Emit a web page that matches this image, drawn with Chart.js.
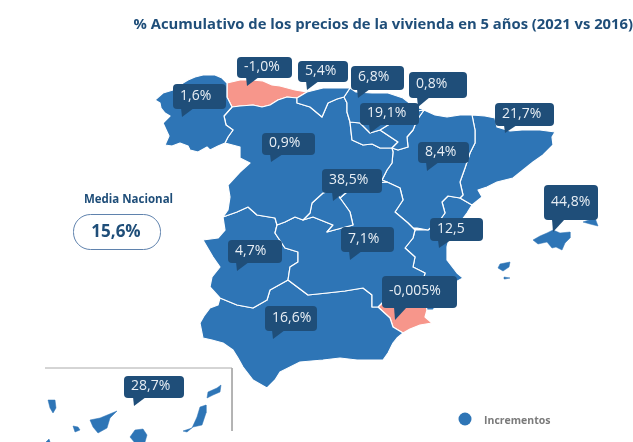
<!DOCTYPE html>
<html lang="es">
<head>
<meta charset="utf-8">
<title>Precios de la vivienda</title>
<script src="https://cdn.jsdelivr.net/npm/chart.js@4"></script>
<style>html,body{margin:0;padding:0;background:#fff}canvas{display:block}</style>
</head>
<body>
<canvas id="c" width="633" height="442"></canvas>
<script>
const chartTitle = "% Acumulativo de los precios de la vivienda en 5 años (2021 vs 2016)";
const mediaLabel = "Media Nacional";
const mediaValue = "15,6%";
const legendLabel = "Incrementos";

// Callout values
const calloutTexts = ["-1,0%","5,4%","1,6%","6,8%","0,8%","19,1%","21,7%","0,9%","8,4%","38,5%","44,8%","12,5","7,1%","4,7%","16,6%","-0,005%","28,7%"];
// Callout geometry, in map units: box left, top, right, bottom, then tip
const calloutBoxes = [[237,57,292,78],[298,61,348,82],[173,84,226,109],[351,66,404,90],[409,72,467,98],[360,103,419,125],[495,103,554,126],[262,133,315,155],[418,142,469,163],[322,169,382,193],[544,185,598,220],[430,218,483,241],[341,227,394,252],[228,240,282,263],[265,306,317,331],[382,276,457,308],[124,376,184,398]];
const calloutTips = [[247,86],[307,90],[182,117],[358,98],[418,107],[370,133],[505,133],[271,162],[427,171],[333,201],[553,232],[439,248],[350,260],[237,271],[273,339],[395,320],[134,406]];

// Region outlines, in map units
const galicia = [[227,83],[227,90],[227,97],[232,107],[224,116],[226,125],[233,130],[228,137],[225,143],[218,146],[210,150],[207,147],[198,152],[190,150],[188,146],[180,143],[172,146],[165,145],[169,136],[163,123],[170,116],[165,113],[161,108],[160,103],[155,100],[163,93],[173,90],[183,83],[188,80],[195,77],[203,75],[215,75],[222,78],[227,83]];
const asturias = [[227,83],[240,80],[252,80],[263,81],[272,85],[280,86],[295,90],[307,92],[297,98],[287,97],[278,100],[270,105],[262,107],[253,105],[240,106],[232,107],[227,97],[227,90],[227,83]];
const cantabria = [[307,92],[323,88],[338,88],[350,88],[344,97],[337,99],[328,103],[325,110],[322,117],[316,112],[310,107],[297,103],[297,98],[307,92]];
const paisVasco = [[350,88],[356,92],[372,93],[388,93],[403,98],[412,105],[424,110],[410,112],[398,118],[388,125],[380,130],[370,133],[360,123],[350,122],[347,112],[347,103],[344,97],[350,88]];
const navarra = [[424,110],[417,120],[413,130],[407,137],[408,147],[398,150],[392,148],[398,142],[380,130],[388,125],[398,118],[410,112],[424,110]];
const rioja = [[350,122],[360,123],[370,133],[380,130],[398,142],[392,148],[380,148],[372,144],[363,145],[352,140],[350,122]];
const castillaLeon = [[232,107],[240,106],[253,105],[262,107],[270,105],[278,100],[287,97],[297,98],[297,103],[310,107],[316,112],[322,117],[325,110],[328,103],[337,99],[344,97],[347,103],[347,112],[350,122],[352,140],[363,145],[372,144],[380,148],[392,148],[393,152],[392,163],[387,170],[382,180],[387,182],[375,183],[355,185],[340,198],[335,190],[323,193],[312,203],[310,213],[303,220],[295,217],[285,222],[277,225],[275,218],[257,215],[248,207],[237,212],[223,217],[228,210],[230,197],[228,185],[240,172],[250,163],[240,158],[240,147],[225,143],[228,137],[233,130],[226,125],[224,116],[232,107]];
const madrid = [[340,198],[335,190],[323,193],[312,203],[310,213],[303,220],[313,217],[333,225],[327,232],[353,225],[350,212],[340,198]];
const castillaMancha = [[387,182],[400,188],[403,200],[395,212],[408,223],[413,228],[415,230],[413,238],[405,248],[415,257],[413,267],[425,273],[422,285],[420,290],[400,297],[385,300],[378,307],[372,307],[372,295],[363,288],[345,291],[327,293],[308,295],[288,280],[290,267],[298,262],[298,252],[285,248],[275,233],[277,225],[285,222],[295,217],[303,220],[313,217],[333,225],[327,232],[353,225],[350,212],[340,198],[355,185],[375,183],[387,182]];
const aragon = [[424,110],[435,115],[447,117],[460,115],[472,115],[475,130],[475,143],[470,153],[465,168],[460,182],[463,195],[460,198],[448,196],[442,202],[445,213],[440,220],[428,230],[417,228],[413,228],[408,223],[395,212],[403,200],[400,188],[387,182],[382,180],[387,170],[392,163],[393,152],[392,148],[398,150],[408,147],[407,137],[413,130],[417,120],[424,110]];
const cataluna = [[472,115],[485,116],[495,118],[497,127],[510,131],[522,130],[540,130],[555,132],[552,137],[553,145],[543,155],[533,162],[523,170],[513,178],[497,182],[487,187],[478,190],[482,197],[472,205],[460,198],[463,195],[460,182],[465,168],[470,153],[475,143],[475,130],[472,115]];
const valencia = [[415,230],[428,230],[440,220],[445,213],[442,202],[448,196],[460,198],[472,205],[467,213],[458,225],[450,235],[447,247],[447,260],[457,273],[463,278],[450,285],[443,297],[433,310],[427,310],[425,300],[420,290],[422,285],[425,273],[413,267],[415,257],[405,248],[413,238],[415,230]];
const murcia = [[378,307],[385,300],[400,297],[420,290],[425,300],[427,310],[425,317],[432,323],[420,325],[410,329],[403,333],[393,327],[390,318],[378,307]];
const extremadura = [[223,217],[237,212],[248,207],[257,215],[275,218],[277,225],[275,233],[285,248],[298,252],[298,262],[290,267],[288,280],[270,290],[267,300],[253,308],[237,305],[220,298],[210,287],[212,277],[220,267],[213,257],[203,240],[218,238],[225,230],[223,217]];
const andalucia = [[220,298],[237,305],[253,308],[267,300],[270,290],[288,280],[308,295],[327,293],[345,291],[363,288],[372,295],[372,307],[378,307],[390,318],[393,327],[403,333],[397,338],[393,343],[388,353],[383,360],[377,360],[357,360],[340,358],[323,360],[300,362],[280,372],[275,380],[267,388],[253,380],[243,367],[238,358],[233,350],[223,343],[212,340],[203,338],[200,323],[204,316],[210,308],[218,305],[220,298]];
const trevino = [[345,112],[348,108],[352,113],[348,115],[345,112]];
// Islands
const mallorca = [[533,240],[540,236],[547,233],[553,230],[560,233],[570,232],[570,238],[565,243],[562,250],[556,247],[552,248],[547,242],[538,244],[533,240]];
const menorca = [[583,222],[595,218],[598,226],[590,224],[583,222]];
const ibiza = [[498,268],[500,264],[510,262],[509,267],[503,271],[498,268]];
const formentera = [[504,277],[510,278],[505,279],[504,277]];
const laPalma = [[48,400],[55,400],[56,408],[53,413],[50,408],[48,400]];
const gomera = [[73,426],[78,427],[80,430],[75,432],[73,426]];
const tenerife = [[90,420],[100,418],[117,411],[110,418],[107,428],[98,433],[93,427],[90,420]];
const granCanaria = [[130,437],[135,430],[143,429],[147,435],[145,442],[135,443],[130,437]];
const hierro = [[46,442],[49,439],[50,442],[46,442]];
const fuerteventura = [[183,431],[192,428],[197,417],[200,407],[206,405],[206,413],[202,425],[193,427],[187,432],[183,431]];
const lanzarote = [[207,398],[208,392],[217,388],[221,385],[220,392],[213,395],[207,398]];
const insetFrame = [[45,368],[232,368],[232,431]];

const BLUE = "#2e75b6", PINK = "#f7968b", NAVY = "#1f4e79", TEXT = "#e9eff5";
const FONT = '"Open Sans"';

const mainland = [galicia, cantabria, paisVasco, navarra, rioja, castillaLeon, trevino, madrid, castillaMancha, aragon, cataluna, valencia, extremadura, andalucia];
const negative = [asturias, murcia];
const islands = [mallorca, menorca, ibiza, formentera, laPalma, gomera, tenerife, granCanaria, hierro, fuerteventura, lanzarote];

const toPts = a => a.map(p => ({x: p[0], y: p[1]}));
const area = (a, color, line) => ({
  data: toPts(a), showLine: true, fill: "shape", tension: 0, pointRadius: 0,
  backgroundColor: color, borderColor: line, borderWidth: line === color ? 0.5 : 1.2, borderJoinStyle: "round"
});
const datasets = [
  ...mainland.map(r => area(r, BLUE, "#ffffff")),
  ...negative.map(r => area(r, PINK, "#ffffff")),
  ...islands.map(r => area(r, BLUE, BLUE)),
  {data: toPts(insetFrame), showLine: true, fill: false, tension: 0, pointRadius: 0, borderColor: "#aaaaaa", borderWidth: 1}
];

const overlay = {
  id: "overlay",
  afterDatasetsDraw(chart) {
    const {ctx, scales: {x, y}} = chart;
    const px = v => x.getPixelForValue(v), py = v => y.getPixelForValue(v);
    ctx.save();
    ctx.textBaseline = "middle";
    calloutTexts.forEach((t, i) => {
      const [l, tp, r, b] = calloutBoxes[i], [tx, ty] = calloutTips[i];
      ctx.fillStyle = NAVY;
      ctx.beginPath();
      ctx.roundRect(px(l), py(tp), px(r) - px(l), py(b) - py(tp), 4);
      ctx.fill();
      ctx.beginPath();
      ctx.moveTo(px(tx - 1), py(b) - 1);
      ctx.lineTo(px(tx), py(ty));
      ctx.lineTo(px(tx + 12), py(b) - 1);
      ctx.closePath();
      ctx.fill();
      ctx.fillStyle = TEXT;
      ctx.font = '14px ' + FONT;
      ctx.textAlign = "left";
      ctx.fillText(t, px(l) + 7, (py(tp) + py(b)) / 2 - 0.5);
    });
    // Media Nacional
    ctx.fillStyle = NAVY;
    ctx.textAlign = "center";
    ctx.font = 'bold 11.5px ' + FONT;
    ctx.fillText(mediaLabel, px(128.5), py(200));
    ctx.beginPath();
    ctx.roundRect(px(73.5), py(214.5), 87, 35, 17);
    ctx.fillStyle = "#ffffff";
    ctx.fill();
    ctx.strokeStyle = "#5f82ad";
    ctx.lineWidth = 1;
    ctx.stroke();
    ctx.fillStyle = NAVY;
    ctx.font = 'bold 17px ' + FONT;
    ctx.fillText(mediaValue, px(116), py(232));
    // Legend
    ctx.fillStyle = BLUE;
    ctx.beginPath();
    ctx.arc(px(465), py(419), 6.5, 0, Math.PI * 2);
    ctx.fill();
    ctx.fillStyle = "#7a7a7a";
    ctx.textAlign = "left";
    ctx.font = 'bold 10.5px ' + FONT;
    ctx.fillText(legendLabel, px(484), py(421));
    ctx.restore();
  }
};

new Chart(document.getElementById("c"), {
  type: "scatter",
  data: {datasets},
  plugins: [overlay],
  options: {
    responsive: false,
    animation: false,
    devicePixelRatio: 1,
    layout: {padding: 0},
    events: [],
    plugins: {
      legend: {display: false},
      tooltip: {enabled: false},
      title: {
        display: true, text: chartTitle, align: "end", color: NAVY,
        font: {family: FONT, size: 14.8, weight: "bold", lineHeight: 1.2},
        padding: {top: 15.5, bottom: 2.74}
      }
    },
    scales: {
      x: {type: "linear", min: 0, max: 633, display: false},
      y: {type: "linear", min: 36, max: 442, reverse: true, display: false}
    }
  }
});
</script>
</body>
</html>
